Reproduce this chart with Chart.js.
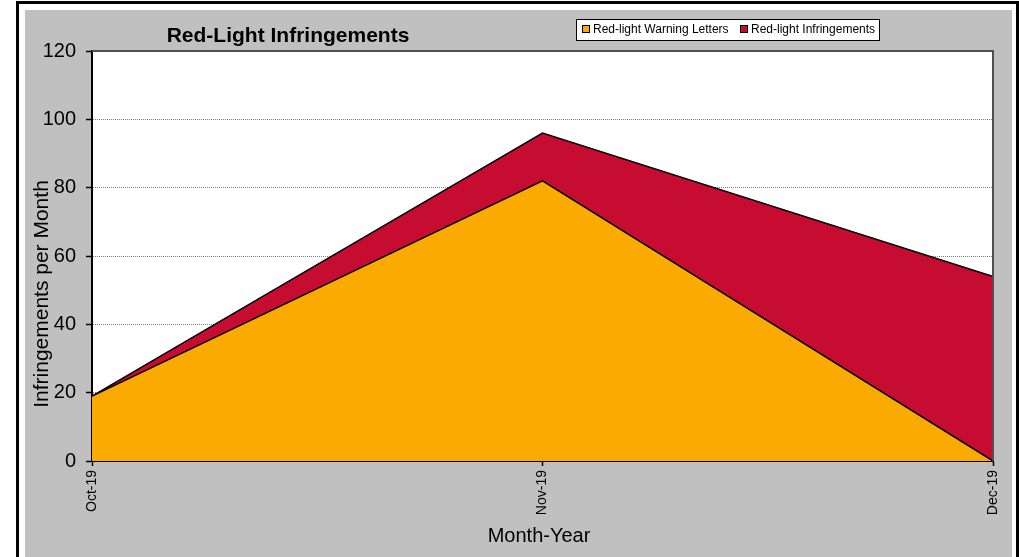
<!DOCTYPE html>
<html>
<head>
<meta charset="utf-8">
<script src="https://cdn.jsdelivr.net/npm/chart.js@4"></script>
<style>
    html, body { margin: 0; padding: 0; background: #fff; }
    #wrap { width: 1019px; height: 557px; position: relative; }
</style>
</head>
<body>
<div id="wrap"><canvas id="rlChart" width="1019" height="557"></canvas></div>
<script>
'use strict';

var rlMonths = ['Oct-19', 'Nov-19', 'Dec-19'];
var rlWarningLetters = [19, 82, 0];
var rlInfringements = [0, 14, 54];
var rlSeriesNames = ['Red-light Warning Letters', 'Red-light Infringements'];
var rlTitle = 'Red-Light Infringements';
var rlYTitle = 'Infringements per Month';
var rlXTitle = 'Month-Year';

var rlOrange = '#FAAA00';
var rlRed = '#C60C31';
var rlFont = "'Liberation Sans', Arial, sans-serif";

var rlFrame = {
    id: 'rlFrame',
    beforeDraw: function (chart) {
        var ctx = chart.ctx;
        var a = chart.chartArea;
        ctx.save();
        ctx.fillStyle = '#fff';
        ctx.fillRect(0, 0, chart.width, chart.height);
        // outer black frame
        ctx.fillStyle = '#000';
        ctx.fillRect(16, 1, 1003, 3);
        ctx.fillRect(16, 1, 3, 556);
        ctx.fillRect(1016, 1, 3, 556);
        // grey panel
        ctx.fillStyle = '#C0C0C0';
        ctx.fillRect(25, 10, 987, 547);
        // plot area
        ctx.fillStyle = '#fff';
        ctx.fillRect(a.left, a.top, a.right - a.left, a.bottom - a.top);
        ctx.restore();
    },
    afterDraw: function (chart) {
        var ctx = chart.ctx;
        var a = chart.chartArea;
        ctx.save();
        // top and right border of plot area
        ctx.strokeStyle = '#505050';
        ctx.lineWidth = 2;
        ctx.beginPath();
        ctx.moveTo(a.left, a.top);
        ctx.lineTo(a.right, a.top);
        ctx.lineTo(a.right, a.bottom);
        ctx.stroke();

        // title
        ctx.fillStyle = '#000';
        ctx.font = 'bold 21px ' + rlFont;
        ctx.textAlign = 'center';
        ctx.textBaseline = 'middle';
        ctx.fillText(rlTitle, 288, 36);

        // axis titles
        ctx.font = '20px ' + rlFont;
        ctx.fillText(rlXTitle, 539, 536);
        ctx.save();
        ctx.translate(42, 294);
        ctx.rotate(-Math.PI / 2);
        ctx.font = '21px ' + rlFont;
        ctx.fillText(rlYTitle, 0, 0);
        ctx.restore();

        // legend box
        ctx.fillStyle = '#fff';
        ctx.fillRect(576, 19, 304, 22);
        ctx.strokeStyle = '#000';
        ctx.lineWidth = 1;
        ctx.strokeRect(576.5, 19.5, 303, 21);
        var colors = [rlOrange, rlRed];
        var xs = [582, 740];
        ctx.font = '12px ' + rlFont;
        ctx.textAlign = 'left';
        rlSeriesNames.forEach(function (name, i) {
            ctx.fillStyle = colors[i];
            ctx.fillRect(xs[i], 25, 8, 8);
            ctx.strokeRect(xs[i] + 0.5, 25.5, 7, 7);
            ctx.fillStyle = '#000';
            ctx.fillText(name, xs[i] + 11, 30);
        });
        ctx.restore();
    }
};

new Chart(document.getElementById('rlChart'), {
    type: 'line',
    data: {
        labels: rlMonths,
        datasets: [
            {
                label: rlSeriesNames[0],
                data: rlWarningLetters,
                backgroundColor: rlOrange,
                borderColor: '#000',
                borderWidth: 1.5,
                pointRadius: 0,
                tension: 0,
                fill: 'origin'
            },
            {
                label: rlSeriesNames[1],
                data: rlInfringements,
                backgroundColor: rlRed,
                borderColor: '#000',
                borderWidth: 1.5,
                pointRadius: 0,
                tension: 0,
                fill: '-1'
            }
        ]
    },
    options: {
        responsive: false,
        animation: false,
        devicePixelRatio: 1,
        layout: { padding: { left: 0, top: 51, right: 26, bottom: 0 } },
        plugins: {
            legend: { display: false },
            title: { display: false },
            tooltip: { enabled: false }
        },
        scales: {
            x: {
                offset: false,
                afterFit: function (scale) { scale.height = 96; },
                border: { color: '#000', width: 2 },
                grid: { drawOnChartArea: false, drawTicks: true, tickLength: 5, tickColor: '#000', tickWidth: 1.5 },
                ticks: {
                    color: '#000',
                    font: { family: rlFont, size: 14 },
                    minRotation: 90,
                    maxRotation: 90,
                    padding: 4,
                    autoSkip: false
                }
            },
            y: {
                stacked: true,
                min: 0,
                max: 120,
                afterFit: function (scale) { scale.width = 92; },
                border: { color: '#000', width: 2, dash: [1, 1] },
                grid: {
                    color: function (c) {
                        var v = c.tick ? c.tick.value : 0;
                        return (v === 0 || v === 120) ? 'rgba(0,0,0,0)' : '#808080';
                    },
                    tickColor: '#000',
                    tickLength: 6,
                    tickWidth: 1.5,
                    tickBorderDash: []
                },
                ticks: {
                    stepSize: 20,
                    color: '#000',
                    font: { family: rlFont, size: 20 },
                    padding: 10
                }
            }
        }
    },
    plugins: [rlFrame]
});
</script>
</body>
</html>
